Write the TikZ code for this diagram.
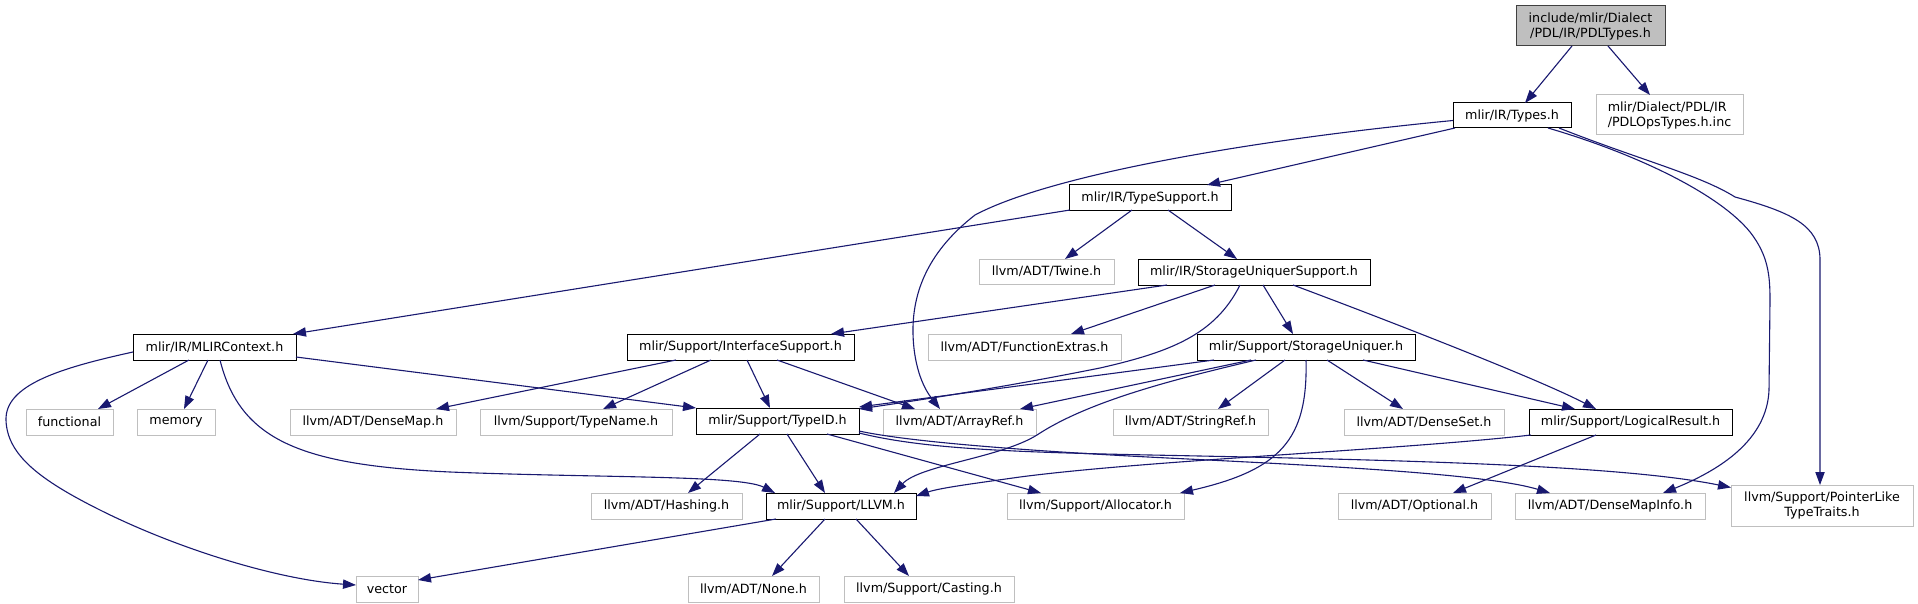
\documentclass[tikz,border=0pt]{standalone}
\usepackage{fontspec}
\setmainfont{DejaVu Sans}
\usetikzlibrary{arrows.meta}
\definecolor{edgec}{HTML}{191970}
\definecolor{extc}{HTML}{BFBFBF}
\definecolor{rootf}{HTML}{BFBFBF}
\definecolor{rootd}{HTML}{404040}
\begin{document}
\begin{tikzpicture}[x=1pt,y=-1pt,
  every node/.style={font=\fontsize{12.7}{15}\selectfont, inner sep=0pt, outer sep=0pt},
  wh/.style 2 args={minimum width=#1pt, minimum height=#2pt},
  box/.style={draw=black, line width=1pt, fill=white},
  ext/.style={draw=extc, line width=1pt, fill=white},
  root/.style={draw=rootd, line width=1pt, fill=rootf},
  edge/.style={draw=edgec, line width=1.1pt, -{Triangle[length=13pt,width=9.3pt]}}
]
\useasboundingbox[fill=white] (0,0) rectangle (1918,604);

% row 0-1
\node[root, wh={149}{40}, align=center] (pdl) at (1590.5,26) {include/mlir/Dialect\\/PDL/IR/PDLTypes.h};
\node[box, wh={118}{25}] (types) at (1512,115.5) {mlir/IR/Types.h};
\node[ext, wh={147}{40}, align=left] (pdlops) at (1669.5,115) {mlir/Dialect/PDL/IR\\/PDLOpsTypes.h.inc};
% row 2-3
\node[box, wh={162}{25}] (ts) at (1150,197.5) {mlir/IR/TypeSupport.h};
\node[ext, wh={135}{25}] (twine) at (1046.5,271.5) {llvm/ADT/Twine.h};
\node[box, wh={232}{26}] (sus) at (1254,272) {mlir/IR/StorageUniquerSupport.h};
% row 4
\node[box, wh={163}{26}] (ctx) at (214.5,347) {mlir/IR/MLIRContext.h};
\node[box, wh={227}{26}] (iface) at (740.5,347) {mlir/Support/InterfaceSupport.h};
\node[ext, wh={193}{26}] (fext) at (1024.5,347) {llvm/ADT/FunctionExtras.h};
\node[box, wh={218}{26}] (su) at (1306,347) {mlir/Support/StorageUniquer.h};
% row 5
\node[ext, wh={87}{26}] (functional) at (69.5,422) {functional};
\node[ext, wh={78}{26}] (memory) at (176,422) {memory};
\node[ext, wh={166}{26}] (dmap) at (373,422) {llvm/ADT/DenseMap.h};
\node[ext, wh={192}{26}] (tname) at (576,422) {llvm/Support/TypeName.h};
\node[box, wh={163}{26}] (tid) at (777.5,421) {mlir/Support/TypeID.h};
\node[ext, wh={153}{26}] (aref) at (959.5,422) {llvm/ADT/ArrayRef.h};
\node[ext, wh={155}{26}] (sref) at (1190.5,422) {llvm/ADT/StringRef.h};
\node[ext, wh={160}{26}] (dset) at (1424,422) {llvm/ADT/DenseSet.h};
\node[box, wh={203}{26}] (lres) at (1630.5,422) {mlir/Support/LogicalResult.h};
% row 6
\node[ext, wh={151}{26}] (hash) at (666.5,506) {llvm/ADT/Hashing.h};
\node[box, wh={150}{26}] (llvm) at (841,506) {mlir/Support/LLVM.h};
\node[ext, wh={177}{26}] (alloc) at (1095.5,506) {llvm/Support/Allocator.h};
\node[ext, wh={153}{26}] (opt) at (1414.5,506) {llvm/ADT/Optional.h};
\node[ext, wh={190}{26}] (dmi) at (1610,506) {llvm/ADT/DenseMapInfo.h};
\node[ext, wh={182}{41}, align=center] (plt) at (1822,505.5) {llvm/Support/PointerLike\\TypeTraits.h};
% row 7
\node[ext, wh={62}{26}] (vec) at (387,589) {vector};
\node[ext, wh={131}{26}] (none) at (753.5,589) {llvm/ADT/None.h};
\node[ext, wh={170}{26}] (cast) at (929,589) {llvm/Support/Casting.h};

% edges
\draw[edge] ([xshift=56pt]pdl.south west) -- ([xshift=72pt]types.north west);
\draw[edge] ([xshift=92pt]pdl.south west) -- ([xshift=54pt]pdlops.north west);
\draw[edge] ([xshift=2pt]types.south west) -- ([xshift=138pt]ts.north west);
\draw[edge] ([yshift=-5pt]types.west) .. controls (1250,140) and (1050,175) .. (975,215)
   .. controls (930,250) and (912,290) .. (913,334)
   .. controls (914,370) and (925,390) .. ([xshift=57pt]aref.north west);
\draw[edge] ([xshift=95pt]types.south west) .. controls (1640,155) and (1720,195) .. (1750,232)
   .. controls (1768,255) and (1770,275) .. (1770,300) -- (1769,390)
   .. controls (1767,440) and (1720,470) .. ([xshift=148pt]dmi.north west);
\draw[edge] ([xshift=106pt]types.south west) .. controls (1640,160) and (1700,175) .. (1735,197)
   .. controls (1790,212) and (1820,225) .. (1820,260) -- ([xshift=89pt]plt.north west);
\draw[edge] ([xshift=1pt]ts.south west) -- ([xshift=-3pt]ctx.north east);
\draw[edge] ([xshift=63pt]ts.south west) -- ([xshift=86pt]twine.north west);
\draw[edge] ([xshift=99pt]ts.south west) -- ([xshift=99pt]sus.north west);
\draw[edge] ([xshift=29pt]sus.south west) -- ([xshift=204pt]iface.north west);
\draw[edge] ([xshift=77pt]sus.south west) -- ([xshift=143pt]fext.north west);
\draw[edge] ([xshift=125pt]sus.south west) -- ([xshift=96pt]su.north west);
\draw[edge] ([xshift=155pt]sus.south west) .. controls (1360,310) and (1530,375) .. ([xshift=67pt]lres.north west);
\draw[edge] ([xshift=102pt]sus.south west) .. controls (1215,335) and (1170,352) .. (1100,368)
   .. controls (1000,388) and (920,400) .. ([yshift=-1pt]tid.north east);
\draw[edge] ([xshift=56pt]ctx.south west) -- ([xshift=72pt]functional.north west);
\draw[edge] ([xshift=75pt]ctx.south west) -- ([xshift=47pt]memory.north west);
\draw[edge] ([yshift=-5pt]ctx.west) .. controls (60,368) and (5,385) .. (6,420)
   .. controls (7,455) and (40,480) .. (100,510)
   .. controls (180,550) and (280,580) .. ([yshift=4pt]vec.west);
\draw[edge] ([xshift=87pt]ctx.south west) .. controls (240,440) and (300,465) .. (450,472)
   .. controls (600,478) and (740,475) .. ([xshift=9pt]llvm.north west);
\draw[edge] ([yshift=-10pt]ctx.east) -- (tid.north west);
\draw[edge] ([xshift=49pt]iface.south west) -- ([xshift=146pt]dmap.north west);
\draw[edge] ([xshift=84pt]iface.south west) -- ([xshift=123pt]tname.north west);
\draw[edge] ([xshift=120pt]iface.south west) -- ([xshift=74pt]tid.north west);
\draw[edge] ([xshift=150pt]iface.south west) -- ([xshift=32pt]aref.north west);
\draw[edge] ([xshift=17pt]su.south west) -- ([yshift=1pt]tid.north east);
\draw[edge] ([xshift=54pt]su.south west) -- ([xshift=137pt]aref.north west);
\draw[edge] ([xshift=59pt]su.south west) .. controls (1180,378) and (1090,400) .. (1037,435)
   .. controls (1000,458) and (920,465) .. ([xshift=128pt]llvm.north west);
\draw[edge] ([xshift=88pt]su.south west) -- ([xshift=105pt]sref.north west);
\draw[edge] ([xshift=130pt]su.south west) -- ([xshift=59pt]dset.north west);
\draw[edge] ([xshift=166pt]su.south west) -- ([xshift=46pt]lres.north west);
\draw[edge] (su.south) .. controls (1308,440) and (1280,470) .. ([xshift=173pt]alloc.north west);
\draw[edge] ([xshift=64pt]tid.south west) -- ([xshift=97pt]hash.north west);
\draw[edge] ([xshift=91pt]tid.south west) -- ([xshift=59pt]llvm.north west);
\draw[edge] ([xshift=131pt]tid.south west) -- ([xshift=34pt]alloc.north west);
\draw[edge] ([yshift=-10pt]tid.east) .. controls (900,440) and (1000,450) .. (1188,459)
   .. controls (1350,467) and (1490,475) .. ([xshift=35pt]dmi.north west);
\draw[edge] ([yshift=-12pt]tid.east) .. controls (920,448) and (1000,452) .. (1150,455)
   .. controls (1400,460) and (1620,465) .. ([yshift=18pt]plt.west);
\draw[edge] ([xshift=2pt]lres.south west) .. controls (1400,450) and (1150,460) .. (1020,477)
   .. controls (970,484) and (940,488) .. ([yshift=-3pt]llvm.north east);
\draw[edge] ([xshift=67pt]lres.south west) -- ([xshift=115pt]opt.north west);
\draw[edge] ([xshift=10pt]llvm.south west) -- ([yshift=9pt]vec.east);
\draw[edge] ([xshift=59pt]llvm.south west) -- ([xshift=84pt]none.north west);
\draw[edge] ([xshift=90pt]llvm.south west) -- ([xshift=65pt]cast.north west);
\end{tikzpicture}
\end{document}
